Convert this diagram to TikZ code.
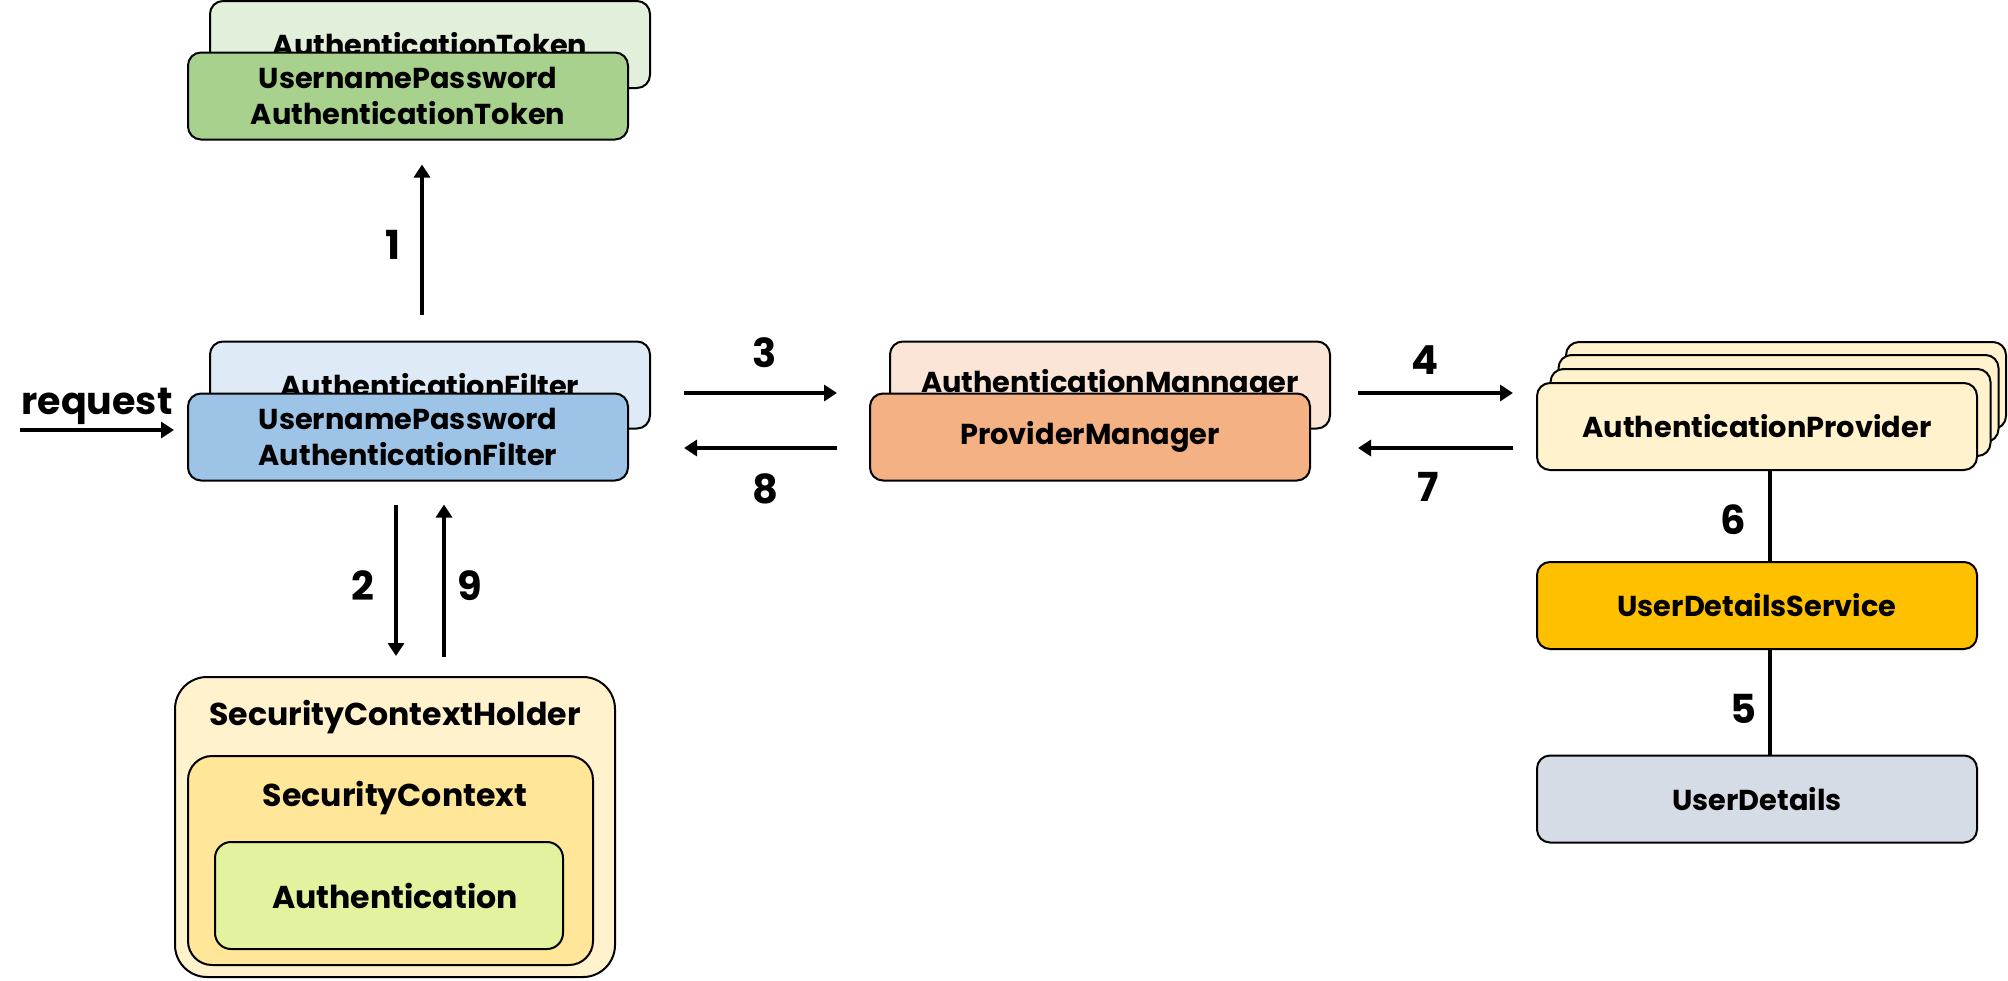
\documentclass[tikz,border=0pt]{standalone}
\usepackage{fontspec}
\setmainfont{Poppins}
\usetikzlibrary{arrows.meta}
\definecolor{tokB}{HTML}{E2EFDA}
\definecolor{tokF}{HTML}{A9D18E}
\definecolor{filB}{HTML}{DEEBF7}
\definecolor{filF}{HTML}{9DC3E6}
\definecolor{mgrB}{HTML}{FBE5D6}
\definecolor{mgrF}{HTML}{F4B183}
\definecolor{provC}{HTML}{FFF2CC}
\definecolor{udsC}{HTML}{FFC000}
\definecolor{udC}{HTML}{D6DCE5}
\definecolor{schC}{HTML}{FFF2CC}
\definecolor{scC}{HTML}{FFE699}
\definecolor{authC}{HTML}{E2F29E}

\begin{document}
\begin{tikzpicture}[x=0.5pt,y=-0.5pt,
  box/.style={draw,line width=1pt,rounded corners=6.5pt,minimum width=220pt,minimum height=43.5pt,
    inner sep=0pt,align=center,font=\bfseries\fontsize{14.4}{18}\selectfont},
  num/.style={font=\bfseries\fontsize{20}{24}\selectfont,inner sep=0pt},
  txt/.style={font=\bfseries\fontsize{15.8}{18}\selectfont,inner sep=0pt},
  flow/.style={line width=2pt,-{Triangle[length=6.5pt,width=8pt]}},
  link/.style={line width=2pt}]
\useasboundingbox (0,0) rectangle (2008,980);
% token (back, front)
\node[box,fill=tokB] (tokback) at (430,44.5) {AuthenticationToken};
\node[box,fill=tokF] (tokfront) at (408,96) {UsernamePassword\\AuthenticationToken};
% filter (back, front)
\node[box,fill=filB] (filtback) at (430,385) {AuthenticationFilter};
\node[box,fill=filF] (filtfront) at (408,437) {UsernamePassword\\AuthenticationFilter};
% manager (back, front)
\node[box,fill=mgrB] (mgrback) at (1110,385) {AuthenticationMannager};
\node[box,fill=mgrF] (mgrfront) at (1090,437) {ProviderManager};
% providers, stacked
\node[box,fill=provC] (prov3) at (1786,385.5) {};
\node[box,fill=provC] (prov2) at (1778.5,398.5) {};
\node[box,fill=provC] (prov1) at (1770.5,412.5) {};
\node[box,fill=provC] (prov) at (1757,426.5) {AuthenticationProvider};
\node[box,fill=udsC] (uds) at (1757,605.5) {UserDetailsService};
\node[box,fill=udC] (ud) at (1757,799) {UserDetails};
% security context holder
\node[draw,line width=1pt,rounded corners=16pt,fill=schC,minimum width=220pt,minimum height=150pt] (sch) at (395,827) {};
\node[draw,line width=1pt,rounded corners=12pt,fill=scC,minimum width=202.5pt,minimum height=104.5pt] (sc) at (390.5,860.5) {};
\node[box,fill=authC,rounded corners=8pt,minimum width=174pt,minimum height=53.5pt] (auth) at (389,895.5) {};
\node[txt] (schtxt) at (395,717) {SecurityContextHolder};
\node[txt] (sctxt) at (395,798) {SecurityContext};
\node[txt] (authtxt) at (395,896) {Authentication};
% request
\coordinate (req) at (20,430);
\draw[flow,shorten >=6.5pt] (req) -- (req -| filtfront.west);
\node[num,font=\bfseries\fontsize{19}{22}\selectfont] (reqtxt) at (97,406) {request};
% flows
\draw[flow,shorten <=13pt,shorten >=12pt] ([xshift=-4pt]filtback.north) -- ([xshift=-4pt]filtback.north |- tokfront.south);
\draw[flow,shorten <=11.5pt,shorten >=10pt] ([xshift=-6pt]filtfront.south) -- ([xshift=-6pt]filtfront.south |- sch.north);
\draw[flow,shorten <=9.5pt,shorten >=11.5pt] ([xshift=18pt]filtfront.south |- sch.north) -- ([xshift=18pt]filtfront.south);
\draw[flow,shorten <=16.5pt,shorten >=16pt] ([yshift=-4pt]filtback.east) -- ([yshift=-4pt]filtback.east -| mgrfront.west);
\draw[flow,shorten <=16pt,shorten >=16.5pt] ([yshift=-5.5pt]mgrfront.west) -- ([yshift=-5.5pt]mgrfront.west -| filtback.east);
\draw[flow,shorten <=13.5pt,shorten >=11.5pt] ([yshift=-4pt]mgrback.east) -- ([yshift=-4pt]mgrback.east -| prov.west);
\draw[flow,shorten <=11.5pt,shorten >=13.5pt] ([yshift=-10.75pt]prov.west) -- ([yshift=-10.75pt]prov.west -| mgrback.east);
\draw[link] ([xshift=6.5pt]prov.south) -- ([xshift=6.5pt]uds.north);
\draw[link] ([xshift=6.5pt]uds.south) -- ([xshift=6.5pt]ud.north);
% step numbers
\node[num] (n1) at (393,245) {1};
\node[num] (n2) at (363,586) {2};
\node[num] (n3) at (765,353) {3};
\node[num] (n4) at (1425,360) {4};
\node[num] (n5) at (1743,709) {5};
\node[num] (n6) at (1733,520) {6};
\node[num] (n7) at (1428,487) {7};
\node[num] (n8) at (765,489) {8};
\node[num] (n9) at (470,586) {9};
\end{tikzpicture}
\end{document}
